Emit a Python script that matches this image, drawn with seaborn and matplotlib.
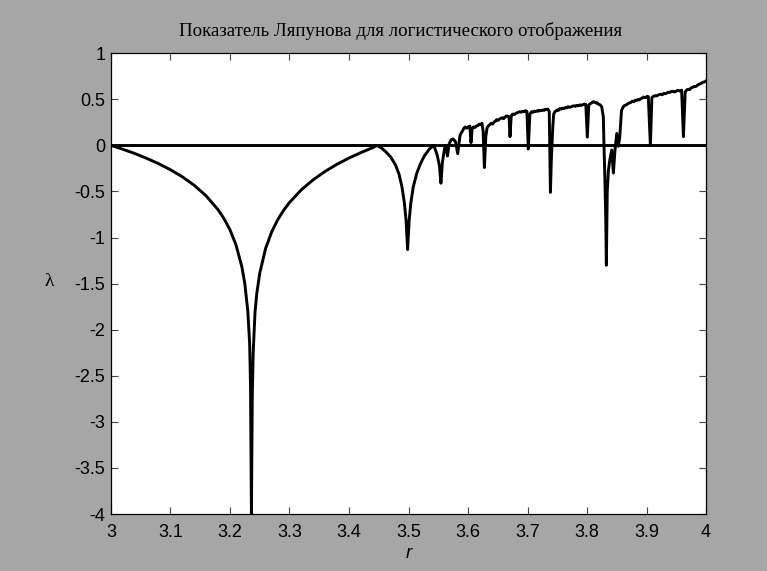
import matplotlib
matplotlib.use("Agg")
import matplotlib.pyplot as plt
import seaborn as sns
import pandas as pd

title_text = "Показатель Ляпунова для логистического отображения"
x_label = "r"
y_label = "λ"

# periodic region (period 2 and 4, period-doubling cascade)
r_periodic = [
    3.000, 3.010, 3.020, 3.040, 3.060, 3.080, 3.100, 3.120, 3.140, 3.160,
    3.180, 3.190, 3.200, 3.210, 3.220, 3.225, 3.230, 3.233, 3.2345, 3.236,
    3.2375, 3.239, 3.242, 3.245, 3.250, 3.260, 3.270, 3.280, 3.290, 3.300,
    3.320, 3.340, 3.360, 3.380, 3.400, 3.420, 3.440, 3.447, 3.455, 3.462,
    3.470, 3.478, 3.484, 3.489, 3.493, 3.496, 3.4985, 3.501, 3.504, 3.508,
    3.514, 3.520, 3.527, 3.535, 3.5425, 3.548, 3.552, 3.5545, 3.557, 3.561,
    3.5625, 3.5655, 3.568, 3.5714, 3.575, 3.579, 3.5827,
]
lam_periodic = [
    0.000, -0.020, -0.042, -0.088, -0.140, -0.198, -0.264, -0.341, -0.433, -0.548,
    -0.698, -0.795, -0.916, -1.078, -1.318, -1.504, -1.804, -2.145, -2.600, -4.000,
    -2.700, -2.250, -1.814, -1.609, -1.386, -1.115, -0.939, -0.809, -0.705, -0.619,
    -0.481, -0.372, -0.281, -0.204, -0.137, -0.078, -0.024, 0.000, -0.030, -0.070,
    -0.125, -0.210, -0.310, -0.450, -0.620, -0.820, -1.130, -0.820, -0.620, -0.450,
    -0.300, -0.200, -0.110, -0.040, 0.000, -0.100, -0.220, -0.410, -0.180, -0.020,
    0.000, -0.115, 0.010, 0.060, 0.070, 0.040, -0.090,
]

# chaotic region up to the period-3 window
r_chaos_a = [
    3.5866, 3.589, 3.591, 3.593, 3.595, 3.597, 3.599, 3.601, 3.603, 3.605,
    3.607, 3.609, 3.6115, 3.614, 3.6165, 3.619, 3.621, 3.6235, 3.6255, 3.6275,
    3.630, 3.632, 3.634, 3.6365, 3.639, 3.6415, 3.644, 3.646, 3.648, 3.6505,
    3.653, 3.6555, 3.658, 3.660, 3.662, 3.664, 3.666, 3.669, 3.6706, 3.6725,
    3.674, 3.676, 3.6785, 3.681, 3.684, 3.687, 3.6895, 3.692, 3.694, 3.6965,
    3.699, 3.7013, 3.704, 3.707, 3.7095, 3.712, 3.7145, 3.717, 3.719, 3.721,
    3.7235, 3.726, 3.728, 3.730, 3.732, 3.734, 3.7365, 3.7385, 3.740, 3.7425,
    3.744, 3.746, 3.748, 3.750, 3.752, 3.7546, 3.757, 3.759, 3.7615, 3.764,
    3.766, 3.768, 3.7705, 3.773, 3.7755, 3.778, 3.7805, 3.783, 3.7855, 3.788,
    3.7905, 3.793, 3.7955, 3.798, 3.8005, 3.803, 3.806, 3.8085, 3.8106, 3.813,
    3.815, 3.817, 3.819, 3.822, 3.8247, 3.8274,
]
lam_chaos_a = [
    0.110, 0.140, 0.160, 0.185, 0.200, 0.188, 0.190, 0.205, 0.210, 0.030,
    0.180, 0.200, 0.195, 0.210, 0.215, 0.230, 0.225, 0.240, 0.150, -0.240,
    0.100, 0.190, 0.210, 0.225, 0.240, 0.232, 0.255, 0.262, 0.280, 0.272,
    0.285, 0.296, 0.300, 0.290, 0.305, 0.318, 0.320, 0.310, 0.095, 0.310,
    0.335, 0.340, 0.336, 0.350, 0.358, 0.366, 0.360, 0.370, 0.366, 0.377,
    0.370, -0.040, 0.340, 0.366, 0.360, 0.372, 0.368, 0.378, 0.372, 0.382,
    0.378, 0.385, 0.380, 0.392, 0.388, 0.395, 0.370, -0.510, -0.160, 0.200,
    0.340, 0.366, 0.375, 0.385, 0.380, 0.400, 0.395, 0.405, 0.400, 0.412,
    0.408, 0.420, 0.414, 0.418, 0.426, 0.430, 0.424, 0.435, 0.430, 0.440,
    0.434, 0.442, 0.448, 0.445, 0.090, 0.440, 0.455, 0.465, 0.475, 0.468,
    0.460, 0.462, 0.450, 0.440, 0.420, 0.310,
]

# period-3 window and the final chaotic band
r_chaos_b = [
    3.8285, 3.8300, 3.8315, 3.8325, 3.834, 3.836, 3.8385, 3.8415, 3.8443, 3.847,
    3.850, 3.8526, 3.855, 3.858, 3.861, 3.8635, 3.866, 3.8685, 3.871, 3.8735,
    3.876, 3.8785, 3.881, 3.8835, 3.886, 3.888, 3.890, 3.8925, 3.895, 3.897,
    3.899, 3.901, 3.903, 3.9065, 3.909, 3.9115, 3.914, 3.9165, 3.919, 3.9215,
    3.924, 3.9265, 3.929, 3.9315, 3.934, 3.9365, 3.939, 3.9415, 3.944, 3.9465,
    3.949, 3.9515, 3.954, 3.9565, 3.959, 3.962, 3.965, 3.9675, 3.970, 3.9725,
    3.975, 3.9775, 3.980, 3.9825, 3.985, 3.9875, 3.990, 3.9925, 3.995, 3.9975,
    4.000,
]
lam_chaos_b = [
    0.000, -0.350, -0.800, -1.300, -0.500, -0.270, -0.150, -0.050, -0.300, -0.050,
    0.130, -0.010, 0.090, 0.380, 0.420, 0.435, 0.440, 0.452, 0.460, 0.466,
    0.480, 0.474, 0.490, 0.488, 0.500, 0.494, 0.505, 0.514, 0.525, 0.518,
    0.520, 0.532, 0.530, 0.000, 0.520, 0.532, 0.540, 0.536, 0.545, 0.552,
    0.555, 0.550, 0.565, 0.560, 0.568, 0.578, 0.575, 0.584, 0.588, 0.580,
    0.585, 0.596, 0.595, 0.590, 0.600, 0.095, 0.580, 0.602, 0.610, 0.605,
    0.625, 0.630, 0.640, 0.638, 0.650, 0.662, 0.668, 0.676, 0.685, 0.690,
    0.700,
]

x_ticks = [3.0, 3.1, 3.2, 3.3, 3.4, 3.5, 3.6, 3.7, 3.8, 3.9, 4.0]
x_tick_labels = ["3", "3.1", "3.2", "3.3", "3.4", "3.5", "3.6", "3.7", "3.8", "3.9", "4"]
y_ticks = [-4, -3.5, -3, -2.5, -2, -1.5, -1, -0.5, 0, 0.5, 1]
y_tick_labels = ["-4", "-3.5", "-3", "-2.5", "-2", "-1.5", "-1", "-0.5", "0", "0.5", "1"]

r_values = r_periodic + r_chaos_a + r_chaos_b
lyapunov_values = lam_periodic + lam_chaos_a + lam_chaos_b
df = pd.DataFrame({"r": r_values, "lam": lyapunov_values})

bg = "#a6a6a6"
fig = plt.figure(figsize=(7.67, 5.71), dpi=100, facecolor=bg)
ax = fig.add_axes([0.1447, 0.0998, 0.7758, 0.8069])
ax.set_facecolor("white")

ax.axhline(0, color="black", lw=2.1, zorder=2)
sns.lineplot(data=df, x="r", y="lam", ax=ax, color="black", lw=2.1,
             estimator=None, sort=False, zorder=3)

ax.set_xlim(3, 4)
ax.set_ylim(-4, 1)
ax.set_xticks(x_ticks)
ax.set_xticklabels(x_tick_labels, family="Liberation Sans", fontsize=13)
ax.set_yticks(y_ticks)
ax.set_yticklabels(y_tick_labels, family="Liberation Sans", fontsize=13)
ax.tick_params(direction="in", top=True, right=True, length=5, width=0.8,
               color="#444444", pad=4)
ax.tick_params(axis="x", pad=7)
for s in ax.spines.values():
    s.set_linewidth(0.9)
    s.set_color("black")

ax.set_xlabel(x_label, family="Liberation Sans", style="italic", fontsize=13.5, va="center")
ax.xaxis.set_label_coords(0.5, -0.0847)
ax.set_ylabel(y_label, family="Liberation Serif", fontsize=14, rotation=0,
              va="center", ha="center")
ax.yaxis.set_label_coords(-0.104, 0.504)
ax.set_title(title_text, family="Liberation Serif", fontsize=13.6,
             x=0.4874, y=1.0485, pad=0, va="center")

fig.savefig("out.png", dpi=100, facecolor=bg)
